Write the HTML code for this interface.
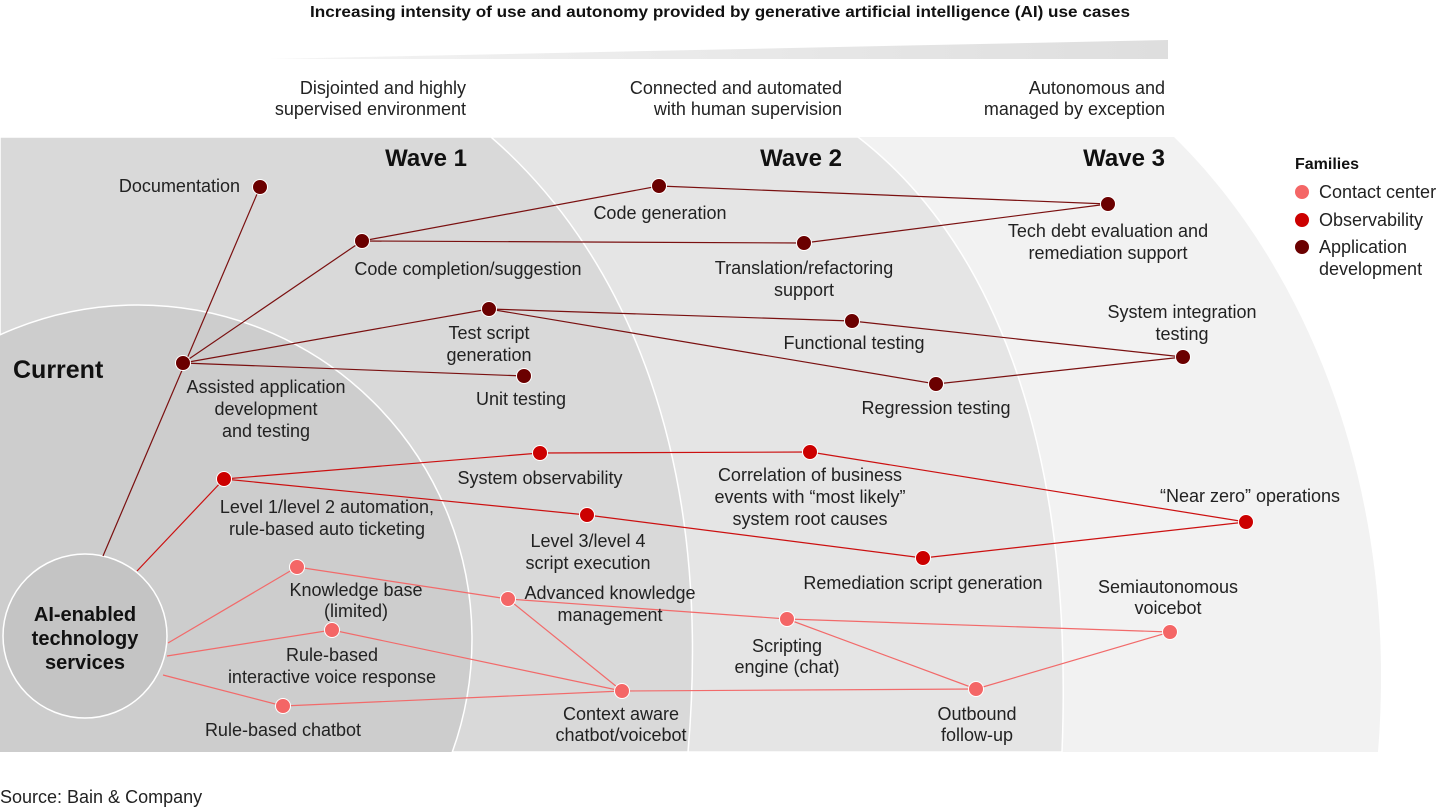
<!DOCTYPE html>
<html><head><meta charset="utf-8"><style>
html,body{margin:0;padding:0;background:#fff;width:1440px;height:810px;overflow:hidden;}
svg{display:block;font-family:"Liberation Sans",sans-serif;}
</style></head><body>
<svg width="1440" height="810" viewBox="0 0 1440 810" xmlns="http://www.w3.org/2000/svg">
<defs>
<linearGradient id="wg" x1="0" x2="1" y1="0" y2="0"><stop offset="0" stop-color="#f4f4f4"/><stop offset="1" stop-color="#dedede"/></linearGradient>
<clipPath id="cp"><rect x="0" y="137" width="1440" height="615"/></clipPath>
</defs>
<text x="720" y="17" text-anchor="middle" font-size="16" font-weight="bold" fill="#111" textLength="820" lengthAdjust="spacingAndGlyphs">Increasing intensity of use and autonomy provided by generative artificial intelligence (AI) use cases</text>
<polygon points="270,59 1168,40 1168,59" fill="url(#wg)"/>
<g font-size="18" fill="#222" text-anchor="end">
<text x="466" y="94">Disjointed and highly</text><text x="466" y="115">supervised environment</text>
<text x="842" y="94">Connected and automated</text><text x="842" y="115">with human supervision</text>
<text x="1165" y="94">Autonomous and</text><text x="1165" y="115">managed by exception</text>
</g>
<g clip-path="url(#cp)">
<path d="M0,137 L1174,137 C1300,260 1400,480 1378,752 L0,752 Z" fill="#f2f2f2"/>
<path d="M0,137 L858,137 C985,235 1075,430 1062,752 L0,752 Z" fill="#e5e5e5" stroke="#fff" stroke-width="1.5"/>
<path d="M0,137 L491,137 C615,245 715,440 688,752 L0,752 Z" fill="#d9d9d9" stroke="#fff" stroke-width="1.5"/>
<circle cx="138" cy="639" r="334" fill="#cdcdcd" stroke="#fff" stroke-width="1.5"/>
</g>
<circle cx="85" cy="636" r="82" fill="#c4c4c4" stroke="#fff" stroke-width="1.5"/>
<g font-size="24" font-weight="bold" fill="#111">
<text x="467" y="166" text-anchor="end">Wave 1</text>
<text x="842" y="166" text-anchor="end">Wave 2</text>
<text x="1165" y="166" text-anchor="end">Wave 3</text>
<text x="13" y="378" font-size="25">Current</text>
</g>
<g font-size="20" font-weight="bold" fill="#111" text-anchor="middle">
<text x="85" y="621">AI-enabled</text><text x="85" y="645">technology</text><text x="85" y="669">services</text>
</g>
<g stroke="#7a1010" stroke-width="1.2" fill="none">
<line x1="103" y1="556" x2="260" y2="187"/>
<line x1="183" y1="363" x2="362" y2="241"/>
<line x1="183" y1="363" x2="489" y2="309"/>
<line x1="183" y1="363" x2="524" y2="376"/>
<line x1="362" y1="241" x2="659" y2="186"/>
<line x1="362" y1="241" x2="804" y2="243"/>
<line x1="659" y1="186" x2="1108" y2="204"/>
<line x1="804" y1="243" x2="1108" y2="204"/>
<line x1="489" y1="309" x2="852" y2="321"/>
<line x1="489" y1="309" x2="936" y2="384"/>
<line x1="852" y1="321" x2="1183" y2="357"/>
<line x1="936" y1="384" x2="1183" y2="357"/>
</g>
<g stroke="#cc1010" stroke-width="1.2" fill="none">
<line x1="137" y1="571" x2="224" y2="479"/>
<line x1="224" y1="479" x2="540" y2="453"/>
<line x1="224" y1="479" x2="587" y2="515"/>
<line x1="540" y1="453" x2="810" y2="452"/>
<line x1="810" y1="452" x2="1246" y2="522"/>
<line x1="587" y1="515" x2="923" y2="558"/>
<line x1="923" y1="558" x2="1246" y2="522"/>
</g>
<g stroke="#f26a6a" stroke-width="1.2" fill="none">
<line x1="168" y1="643" x2="297" y2="567"/>
<line x1="167" y1="656" x2="332" y2="630"/>
<line x1="163" y1="675" x2="283" y2="706"/>
<line x1="297" y1="567" x2="508" y2="599"/>
<line x1="508" y1="599" x2="787" y2="619"/>
<line x1="508" y1="599" x2="622" y2="691"/>
<line x1="332" y1="630" x2="622" y2="691"/>
<line x1="283" y1="706" x2="622" y2="691"/>
<line x1="622" y1="691" x2="976" y2="689"/>
<line x1="787" y1="619" x2="1170" y2="632"/>
<line x1="787" y1="619" x2="976" y2="689"/>
<line x1="976" y1="689" x2="1170" y2="632"/>
</g>
<g fill="#6b0000" stroke="#fff" stroke-width="1">
<circle cx="260" cy="187" r="7.5"/><circle cx="183" cy="363" r="7.5"/><circle cx="362" cy="241" r="7.5"/>
<circle cx="659" cy="186" r="7.5"/><circle cx="804" cy="243" r="7.5"/><circle cx="1108" cy="204" r="7.5"/>
<circle cx="489" cy="309" r="7.5"/><circle cx="524" cy="376" r="7.5"/><circle cx="852" cy="321" r="7.5"/>
<circle cx="936" cy="384" r="7.5"/><circle cx="1183" cy="357" r="7.5"/>
<circle cx="1302" cy="247" r="7.5"/>
</g>
<g fill="#cc0000" stroke="#fff" stroke-width="1">
<circle cx="224" cy="479" r="7.5"/><circle cx="540" cy="453" r="7.5"/><circle cx="587" cy="515" r="7.5"/>
<circle cx="810" cy="452" r="7.5"/><circle cx="923" cy="558" r="7.5"/><circle cx="1246" cy="522" r="7.5"/>
<circle cx="1302" cy="220" r="7.5"/>
</g>
<g fill="#f46666" stroke="#fff" stroke-width="1">
<circle cx="297" cy="567" r="7.5"/><circle cx="332" cy="630" r="7.5"/><circle cx="283" cy="706" r="7.5"/>
<circle cx="508" cy="599" r="7.5"/><circle cx="622" cy="691" r="7.5"/><circle cx="787" cy="619" r="7.5"/>
<circle cx="976" cy="689" r="7.5"/><circle cx="1170" cy="632" r="7.5"/>
<circle cx="1302" cy="192" r="7.5"/>
</g>
<g font-size="18" fill="#222" text-anchor="middle">
<text x="240" y="192" text-anchor="end">Documentation</text>
<text x="468" y="275">Code completion/suggestion</text>
<text x="660" y="219">Code generation</text>
<text x="804" y="274">Translation/refactoring</text><text x="804" y="296">support</text>
<text x="1108" y="237">Tech debt evaluation and</text><text x="1108" y="259">remediation support</text>
<text x="489" y="339">Test script</text><text x="489" y="361">generation</text>
<text x="521" y="405">Unit testing</text>
<text x="854" y="349">Functional testing</text>
<text x="936" y="414">Regression testing</text>
<text x="1182" y="318">System integration</text><text x="1182" y="340">testing</text>
<text x="266" y="393">Assisted application</text><text x="266" y="415">development</text><text x="266" y="437">and testing</text>
<text x="540" y="484">System observability</text>
<text x="810" y="481">Correlation of business</text><text x="810" y="503">events with “most likely”</text><text x="810" y="525">system root causes</text>
<text x="1250" y="502">“Near zero” operations</text>
<text x="327" y="513">Level 1/level 2 automation,</text><text x="327" y="535">rule-based auto ticketing</text>
<text x="588" y="547">Level 3/level 4</text><text x="588" y="569">script execution</text>
<text x="923" y="589">Remediation script generation</text>
<text x="356" y="596">Knowledge base</text><text x="356" y="617">(limited)</text>
<text x="610" y="599">Advanced knowledge</text><text x="610" y="621">management</text>
<text x="332" y="661">Rule-based</text><text x="332" y="683">interactive voice response</text>
<text x="283" y="736">Rule-based chatbot</text>
<text x="621" y="720">Context aware</text><text x="621" y="741">chatbot/voicebot</text>
<text x="787" y="652">Scripting</text><text x="787" y="673">engine (chat)</text>
<text x="977" y="720">Outbound</text><text x="977" y="741">follow-up</text>
<text x="1168" y="593">Semiautonomous</text><text x="1168" y="614">voicebot</text>
</g>
<text x="1295" y="169" font-size="16" font-weight="bold" fill="#111">Families</text>
<g font-size="18" fill="#222">
<text x="1319" y="198">Contact center</text>
<text x="1319" y="226">Observability</text>
<text x="1319" y="253">Application</text>
<text x="1319" y="275">development</text>
</g>
<text x="0" y="803" font-size="18" fill="#222">Source: Bain &amp; Company</text>
</svg>
</body></html>
